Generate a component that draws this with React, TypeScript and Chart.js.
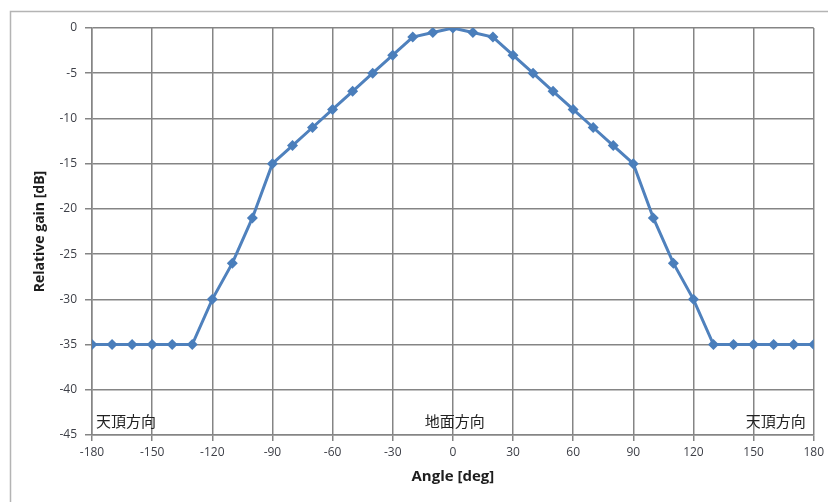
import React, { useEffect, useRef } from "react";
import { Chart, registerables } from "chart.js";

Chart.register(...registerables);

const angles = [
  -180, -170, -160, -150, -140, -130, -120, -110, -100, -90, -80, -70, -60, -50, -40, -30, -20, -10,
  0, 10, 20, 30, 40, 50, 60, 70, 80, 90, 100, 110, 120, 130, 140, 150, 160, 170, 180,
];
const gains = [
  -35, -35, -35, -35, -35, -35, -30, -26, -21, -15, -13, -11, -9, -7, -5, -3, -1, -0.5,
  0, -0.5, -1, -3, -5, -7, -9, -11, -13, -15, -21, -26, -30, -35, -35, -35, -35, -35, -35,
];
const xTitle = "Angle [deg]";
const yTitle = "Relative gain [dB]";
const labelTexts = ["天頂方向", "地面方向", "天頂方向"];
const labelAngles = [-180, 0, 180];
const labelGain = -43.5;

const gridColor = "#858585";
const tickColor = "#3e4048";

export default function App() {
  const ref = useRef<HTMLCanvasElement>(null);
  useEffect(() => {
    const canvas = ref.current!;
    const framePlugin = {
      id: "frame",
      beforeDraw(chart: any) {
        const ctx = chart.ctx;
        ctx.save();
        ctx.fillStyle = "#ffffff";
        ctx.fillRect(0, 0, chart.width, chart.height);
        ctx.strokeStyle = "#b4b4b4";
        ctx.lineWidth = 1.5;
        ctx.strokeRect(10.5, 11.5, 1000, 1000);
        ctx.restore();
      },
      afterDatasetsDraw(chart: any) {
        const ctx = chart.ctx;
        const xs = chart.scales.x;
        const ys = chart.scales.y;
        ctx.save();
        ctx.font = "15px 'Noto Sans CJK JP'";
        ctx.fillStyle = "#222222";
        ctx.textBaseline = "middle";
        labelTexts.forEach((t, i) => {
          const a = labelAngles[i];
          let x = xs.getPixelForValue(a);
          if (i === 0) {
            ctx.textAlign = "left";
            x += 4;
          } else if (i === labelTexts.length - 1) {
            ctx.textAlign = "right";
            x -= 8;
          } else {
            ctx.textAlign = "center";
            x += 2;
          }
          ctx.fillText(t, x, ys.getPixelForValue(labelGain));
        });
        ctx.restore();
      },
    };
    const chart = new Chart(canvas, {
      type: "line",
      data: {
        datasets: [
          {
            data: angles.map((a, i) => ({ x: a, y: gains[i] })),
            borderColor: "#4f81bd",
            backgroundColor: "#4a7ebb",
            borderWidth: 3,
            pointStyle: "rectRot",
            pointRadius: 5.5,
            pointBorderWidth: 0,
            pointBackgroundColor: "#4a7ebb",
            tension: 0,
          },
        ],
      },
      options: {
        responsive: false,
        animation: false,
        layout: { padding: { left: 0, right: 14, top: 28, bottom: 0 } },
        plugins: { legend: { display: false }, tooltip: { enabled: false } },
        scales: {
          x: {
            type: "linear",
            min: -180,
            max: 180,
            afterFit: (s: any) => {
              s.height = 67;
            },
            ticks: {
              stepSize: 30,
              color: tickColor,
              font: { family: "'Open Sans'", size: 12 },
              padding: 4,
              maxRotation: 0,
            },
            grid: { color: gridColor, lineWidth: 1.5, tickLength: 6 },
            border: { color: gridColor, width: 1.5 },
            title: {
              display: true,
              text: xTitle,
              color: "#1e1e1e",
              font: { family: "'Open Sans'", size: 15, weight: "bold" },
              padding: { top: 0, bottom: 16 },
            },
          },
          y: {
            type: "linear",
            min: -45,
            max: 0,
            afterFit: (s: any) => {
              s.width = 92;
            },
            ticks: {
              stepSize: 5,
              color: tickColor,
              font: { family: "'Open Sans'", size: 12 },
              padding: 8,
            },
            grid: { color: gridColor, lineWidth: 1.5, tickLength: 7 },
            border: { color: gridColor, width: 1.5 },
            title: {
              display: true,
              text: yTitle,
              color: "#1e1e1e",
              font: { family: "'Open Sans'", size: 14, weight: "bold" },
              padding: { top: 32, bottom: 0 },
            },
          },
        },
      },
      plugins: [framePlugin],
    });
    return () => chart.destroy();
  }, []);
  return (
    <canvas
      ref={ref}
      width={828}
      height={502}
      style={{ position: "fixed", left: 0, top: 0, width: 828, height: 502 }}
    />
  );
}
